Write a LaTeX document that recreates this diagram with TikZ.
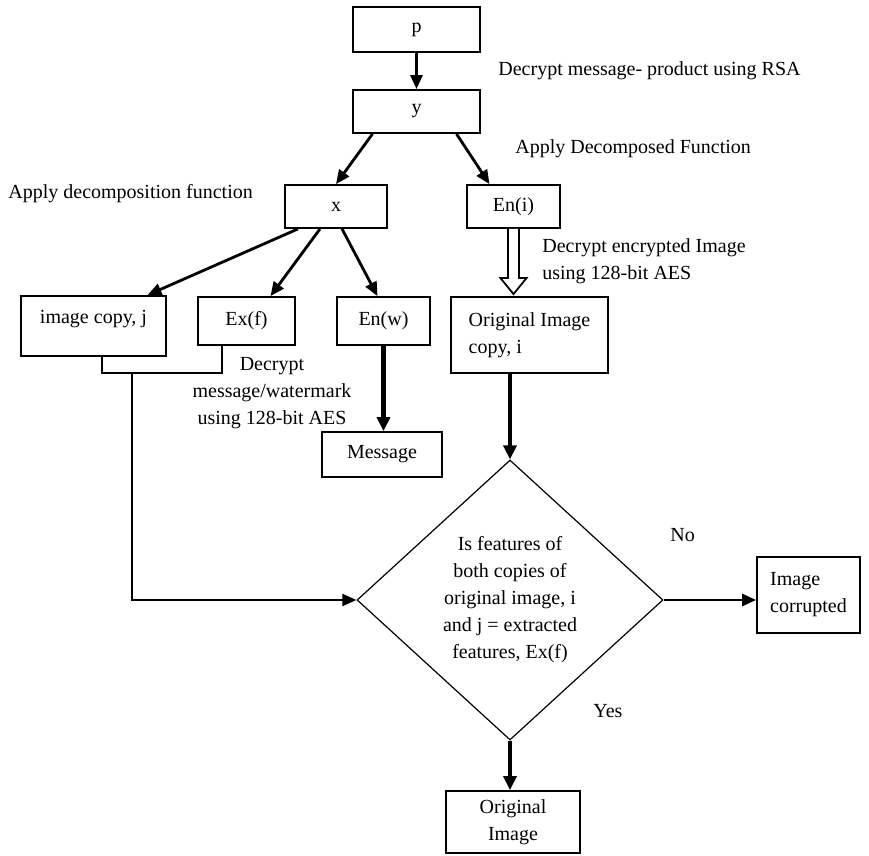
\documentclass[tikz,border=0pt]{standalone}
\usepackage{fontspec}
\setmainfont{Liberation Serif}
\usetikzlibrary{shapes.geometric,arrows.meta,calc}
\begin{document}
\begin{tikzpicture}[x=0.5pt,y=-0.5pt,
every node/.style={font=\fontsize{10}{13.5}\selectfont},
box/.style={draw,line width=0.9pt,inner sep=0pt},
lbl/.style={inner sep=0pt},
arr/.style={line width=1.4pt,-{Triangle[length=7pt,width=6pt]}},
thk/.style={line width=2.2pt,-{Triangle[length=7pt,width=6.5pt]}}]
\useasboundingbox (0,0) rectangle (869,856);
\node[box,minimum width=63.5pt,minimum height=22.5pt] (p) at (416.5,29.5) {p};
\node[box,minimum width=63.5pt,minimum height=21.5pt] (y) at (416.5,111.5) {y};
\node[box,minimum width=51pt,minimum height=21.5pt] (x) at (336,206.5) {x};
\node[box,minimum width=46.5pt,minimum height=21.5pt] (eni) at (513.5,206.5) {En(i)};
\node[box,minimum width=72.5pt,minimum height=30pt,text depth=9pt] (imgj) at (93.5,326) {image copy, j};
\node[box,minimum width=48.5pt,minimum height=24pt] (exf) at (246.5,321) {Ex(f)};
\node[box,minimum width=46.5pt,minimum height=24pt] (enw) at (383.5,321) {En(w)};
\node[box,minimum width=78.5pt,minimum height=38pt,align=left] (origi) at (529.5,335) {Original Image\\copy, i};
\node[box,minimum width=60pt,minimum height=22.5pt] (msg) at (382,454.5) {Message};
\node[draw,diamond,line width=0.6pt,inner sep=0pt,aspect=1.09,minimum width=153pt,minimum height=140pt,align=center] (dia) at (510,600)
{Is features of\\both copies of\\original image, i\\and j = extracted\\features, Ex(f)};
\node[box,minimum width=51.5pt,minimum height=38pt,align=left] (corr) at (808.5,595) {Image\\corrupted};
\node[box,minimum width=67pt,minimum height=31pt,align=center] (orig) at (513,822) {Original\\Image};
\coordinate (jn) at (132,372);
\node[lbl,anchor=base west] (rsa) at (498,76) {Decrypt message- product using RSA};
\node[lbl,anchor=base west] (dcf) at (515,154) {Apply Decomposed Function};
\node[lbl,anchor=base west] (dcp) at (8,199) {Apply decomposition function};
\node[lbl,anchor=north west,align=left] (aesi) at (542,238) {Decrypt encrypted Image\\using 128-bit AES};
\node[lbl,anchor=north,align=center] (aesw) at (272,357) {Decrypt\\message/watermark\\using 128-bit AES};
\node[lbl,anchor=base west] (no) at (670,541) {No};
\node[lbl,anchor=base west] (yes) at (593,717) {Yes};
\draw[arr] (p) -- (y);
\draw[arr] ([xshift=-22pt]y.south) -- (x.north);
\draw[arr] ([xshift=20pt]y.south) -- ([xshift=-12pt]eni.north);
\draw[arr] ([xshift=-19pt]x.south) -- ([xshift=27pt]imgj.north);
\draw[arr] ([xshift=-8pt]x.south) -- ([xshift=12pt]exf.north);
\draw[arr] ([xshift=3pt]x.south) -- ([xshift=-3pt]enw.north);
\draw[line width=0.9pt,fill=white] let \p1=(eni.south), \p2=(eni.south |- origi.north) in
(\x1-2.75pt,\y1) -- (\x1-2.75pt,\y2+9pt) -- (\x1-6.5pt,\y2+9pt) -- (\x1,\y2+1pt)
-- (\x1+6.5pt,\y2+9pt) -- (\x1+2.75pt,\y2+9pt) -- (\x1+2.75pt,\y1);
\draw[line width=0.8pt] ([xshift=4.25pt]imgj.south) -- ++(0,16) -| ([xshift=-12.25pt]exf.south);
\draw[line width=1.1pt,-{Triangle[length=7pt,width=6pt]}] (jn) |- (dia.west);
\draw[thk] (enw) -- (enw.south |- msg.north);
\draw[thk] (dia.north |- origi.south) -- (dia.north);
\draw[arr] (dia.east) -- (dia.east -| corr.west);
\draw[thk] (dia.south) -- (dia.south |- orig.north);
\end{tikzpicture}
\end{document}
